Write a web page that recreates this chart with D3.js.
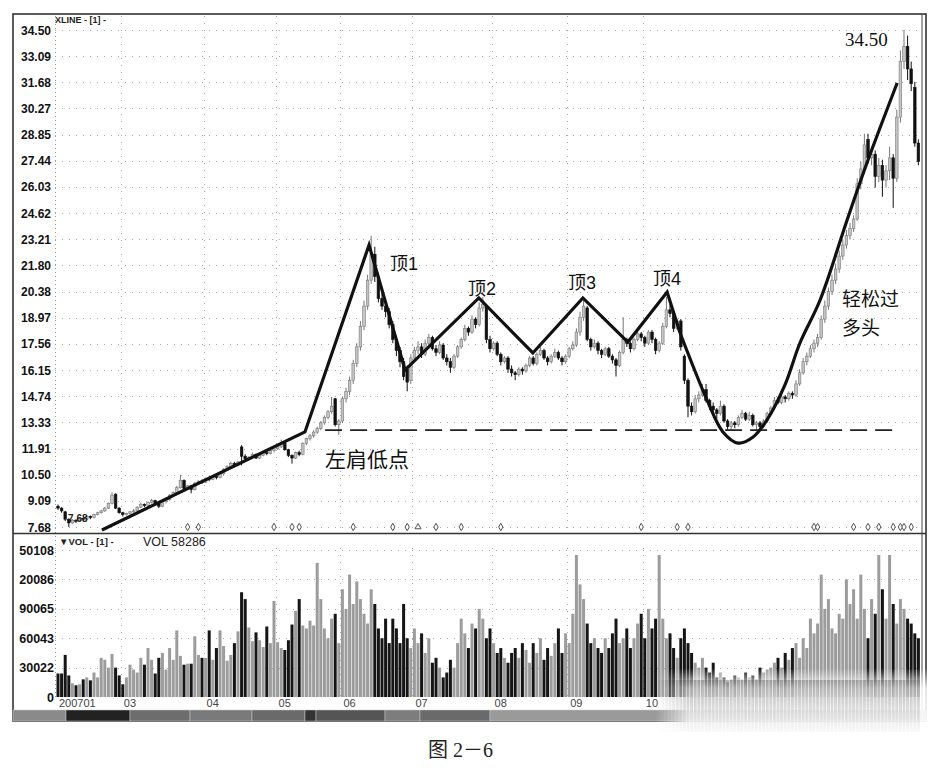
<!DOCTYPE html>
<html><head><meta charset="utf-8">
<script src="https://cdn.jsdelivr.net/npm/d3@7"></script>
<style>body{margin:0;background:#fff}svg{display:block}</style>
</head><body><svg id="c" width="937" height="768"></svg>
<script>
// ---------- DATA ----------
const opens=[
8.80,8.70,8.50,8.10,7.90,8.05,8.00,8.15,8.10,8.25,
8.20,8.35,8.45,8.55,8.70,8.95,9.45,8.70,8.45,8.35,
8.40,8.50,8.55,8.75,8.90,8.85,9.00,9.10,8.95,8.80,
9.05,9.15,9.40,9.55,9.80,10.20,9.75,9.90,9.70,10.05,
10.15,10.10,10.30,10.25,10.40,10.35,10.55,10.80,10.95,11.10,
11.00,12.00,11.50,11.35,11.45,11.60,11.40,11.55,11.70,11.65,
11.80,11.90,12.00,12.20,11.85,11.55,11.40,11.70,11.60,12.20,
12.45,12.60,12.80,13.00,13.30,13.60,13.90,14.60,13.20,13.40,
14.60,15.00,15.60,16.50,17.40,18.50,19.60,21.00,22.40,21.20,
20.00,19.60,19.30,18.60,17.80,17.20,16.60,16.20,15.60,16.80,
17.20,17.40,17.00,17.60,17.90,17.30,17.10,17.50,16.80,16.60,
16.30,16.90,17.40,17.80,18.40,18.20,18.90,18.60,19.50,19.60,
17.80,17.30,17.60,17.00,16.60,16.80,16.20,16.00,15.90,16.20,
16.10,16.40,16.80,16.50,17.00,17.20,16.80,16.60,16.90,17.10,
16.80,16.60,16.90,17.30,17.50,18.20,19.00,19.50,17.80,17.40,
17.60,17.20,17.00,17.30,16.90,16.70,16.40,17.10,17.80,17.60,
17.30,17.80,18.10,17.90,17.60,18.20,17.80,17.20,17.60,18.50,
19.40,19.20,18.40,18.80,16.90,15.60,14.20,13.90,14.60,14.80,
15.10,14.50,14.20,14.00,13.80,14.20,13.40,13.10,13.30,13.20,
13.60,13.80,13.50,13.70,13.20,13.30,13.10,13.40,13.80,14.10,
14.50,14.40,14.70,14.60,14.90,14.80,15.40,16.00,16.60,16.90,
17.30,17.60,17.90,18.90,19.60,20.40,21.00,21.60,22.30,22.90,
23.40,23.80,24.30,26.20,27.00,28.60,27.60,27.80,26.60,27.20,
26.40,26.90,27.60,26.50,29.80,32.80,33.60,32.40,31.40,28.40];
const highs=[
8.90,8.75,8.55,8.15,8.10,8.10,8.20,8.20,8.30,8.30,
8.40,8.50,8.60,8.75,9.00,9.55,9.50,8.75,8.50,8.45,
8.55,8.65,8.80,9.00,8.95,9.05,9.20,9.15,9.00,9.10,
9.20,9.45,9.60,9.90,10.50,10.25,9.95,9.95,10.10,10.20,
10.25,10.35,10.40,10.45,10.50,10.60,10.85,11.00,11.20,11.20,
11.25,12.10,11.60,11.50,11.70,11.65,11.60,11.75,11.80,11.85,
11.95,12.10,12.40,12.25,11.90,11.60,11.75,11.80,12.25,12.50,
12.70,12.90,13.10,13.40,13.70,14.00,14.70,14.65,13.50,14.70,
15.20,15.80,16.70,17.60,18.80,19.90,21.30,23.40,22.80,21.40,
20.30,19.90,19.50,18.80,18.00,17.40,16.80,16.40,17.00,17.40,
17.70,17.60,17.80,18.10,18.00,17.50,17.70,17.60,17.00,16.80,
17.00,17.50,17.90,18.60,18.50,19.10,19.00,19.80,20.10,19.70,
18.00,17.70,17.70,17.10,16.90,16.90,16.40,16.10,16.30,16.30,
16.50,16.90,16.90,17.10,17.40,17.30,16.90,17.00,17.30,17.20,
16.90,17.00,17.40,17.70,18.40,19.30,19.90,19.60,17.90,17.80,
17.70,17.30,17.40,17.40,17.00,16.80,17.20,19.00,17.90,17.70,
17.90,18.30,18.20,18.00,18.30,18.30,17.90,17.70,18.70,20.10,
19.70,19.40,18.90,18.90,17.00,15.70,14.40,14.80,15.00,15.40,
15.40,14.60,14.40,14.10,14.50,14.30,13.50,13.40,13.40,13.70,
14.00,13.90,13.90,13.80,13.40,13.40,13.50,13.90,14.20,14.70,
14.70,14.80,14.80,15.00,15.00,15.60,16.20,16.80,17.10,17.50,
17.80,18.10,19.10,19.90,20.60,21.30,21.90,22.60,23.20,23.70,
24.10,24.50,26.50,27.40,28.90,28.90,28.20,28.00,27.60,27.50,
27.20,28.20,27.80,30.20,33.40,34.50,34.20,32.80,31.70,28.60];
const lows=[
8.60,8.45,8.00,7.68,7.85,7.90,7.95,8.00,8.05,8.10,
8.15,8.30,8.40,8.50,8.65,8.90,8.65,8.40,8.25,8.30,
8.35,8.45,8.50,8.70,8.75,8.80,8.95,8.85,8.70,8.75,
8.95,9.10,9.35,9.50,9.75,9.70,9.70,9.50,9.65,10.00,
10.00,10.05,10.15,10.20,10.25,10.30,10.50,10.75,10.90,10.90,
10.95,11.00,11.30,11.30,11.40,11.35,11.35,11.50,11.55,11.60,
11.70,11.85,11.95,11.80,11.45,11.10,11.35,11.50,11.55,12.10,
12.35,12.50,12.70,12.90,13.20,13.50,13.80,13.10,12.65,13.30,
14.40,14.80,15.40,16.30,17.20,18.30,19.40,20.80,20.90,19.80,
19.40,19.00,18.40,17.60,16.90,16.30,15.60,15.00,15.40,16.60,
17.00,16.80,16.90,17.40,17.20,16.90,17.00,16.70,16.40,16.00,
16.20,16.80,17.30,17.70,18.00,18.10,18.40,18.50,19.30,17.60,
17.10,17.20,16.90,16.40,16.50,16.00,15.80,15.60,15.80,15.90,
16.00,16.30,16.40,16.40,16.90,16.70,16.40,16.50,16.80,16.70,
16.40,16.50,16.80,17.20,17.40,18.00,18.80,17.70,17.20,17.30,
17.00,16.80,16.90,16.80,16.50,15.80,16.30,17.00,17.40,17.10,
17.20,17.70,17.70,17.40,17.50,17.60,17.00,17.10,17.50,18.40,
19.00,18.20,18.30,17.20,15.40,13.60,13.70,13.80,14.40,14.70,
14.40,14.00,13.80,13.50,13.70,13.30,12.90,12.90,13.00,13.10,
13.50,13.40,13.40,13.10,12.90,12.90,13.00,13.30,13.70,14.00,
14.30,14.30,14.40,14.50,14.60,14.70,15.30,15.90,16.40,16.80,
17.10,17.40,17.80,18.70,19.40,20.20,20.80,21.40,22.10,22.70,
23.20,23.60,24.20,25.90,26.80,27.30,27.20,26.00,26.30,25.50,
26.00,26.40,24.90,26.30,29.50,32.40,31.80,31.20,28.20,27.20];
const closes=[
8.70,8.55,8.10,7.90,8.05,8.00,8.15,8.10,8.25,8.20,
8.35,8.45,8.55,8.70,8.95,9.40,8.70,8.45,8.35,8.40,
8.50,8.55,8.75,8.90,8.85,9.00,9.10,8.95,8.80,9.05,
9.15,9.40,9.55,9.80,10.20,9.75,9.90,9.70,10.05,10.15,
10.10,10.30,10.25,10.40,10.35,10.55,10.80,10.95,11.10,11.00,
11.20,11.50,11.35,11.45,11.60,11.40,11.55,11.70,11.65,11.80,
11.90,12.00,12.20,11.85,11.55,11.40,11.70,11.60,12.20,12.45,
12.60,12.80,13.00,13.30,13.60,13.90,14.20,13.20,13.40,14.60,
15.00,15.60,16.50,17.40,18.50,19.60,21.00,22.40,21.20,20.00,
19.60,19.30,18.60,17.80,17.20,16.60,15.80,15.50,16.80,17.20,
17.40,17.00,17.60,17.90,17.30,17.10,17.50,16.80,16.60,16.30,
16.90,17.40,17.80,18.40,18.20,18.90,18.60,19.50,19.70,17.80,
17.30,17.60,17.00,16.60,16.80,16.20,16.00,15.90,16.20,16.10,
16.40,16.80,16.50,17.00,17.20,16.80,16.60,16.90,17.10,16.80,
16.60,16.90,17.30,17.50,18.20,19.00,19.60,17.80,17.40,17.60,
17.20,17.00,17.30,16.90,16.70,16.40,17.10,17.80,17.60,17.30,
17.80,18.10,17.90,17.60,18.20,17.80,17.20,17.60,18.50,19.40,
19.20,18.40,18.80,17.40,15.60,14.20,13.90,14.60,14.80,15.10,
14.50,14.20,14.00,13.80,14.20,13.40,13.10,13.30,13.20,13.60,
13.80,13.50,13.70,13.20,13.30,13.10,13.40,13.80,14.10,14.50,
14.40,14.70,14.60,14.90,14.80,15.40,16.00,16.60,16.90,17.30,
17.60,17.90,18.90,19.60,20.40,21.00,21.60,22.30,22.90,23.40,
23.80,24.30,26.20,27.00,28.30,27.60,27.80,26.60,27.20,26.40,
26.90,27.60,26.50,29.80,32.80,33.60,32.40,31.60,28.40,27.40];
// volume in thousands
const volumes=[
24,24,43,22,14,12,13,18,20,17,
25,20,40,38,30,44,30,22,13,20,
33,28,25,40,33,50,38,24,40,45,
28,50,38,68,42,33,34,34,62,43,
40,40,68,38,50,68,52,37,43,55,
67,107,100,71,57,66,58,51,72,55,
98,56,50,48,58,74,88,100,73,70,
78,73,137,100,70,60,80,85,55,110,
90,125,95,118,100,85,75,110,95,70,
60,80,55,80,70,55,95,60,50,70,
55,65,45,60,35,40,30,20,25,38,
30,55,80,65,50,75,70,90,80,60,
70,55,45,50,40,35,45,50,40,55,
48,35,55,45,60,38,50,42,55,70,
45,65,55,85,145,115,100,75,55,60,
50,45,60,50,65,80,55,60,70,50,
60,75,85,60,90,70,80,145,80,60,
65,50,40,60,70,55,45,35,30,40,
30,25,35,20,25,20,15,18,22,20,
18,25,20,22,18,30,25,28,30,35,
40,30,45,38,50,55,40,60,50,80,
65,75,125,90,100,70,65,85,80,120,
95,110,80,125,90,60,100,85,145,110,
80,145,95,75,100,90,80,75,65,60];

const priceTicks=["34.50","33.09","31.68","30.27","28.85","27.44","26.03","24.62","23.21","21.80","20.38","18.97","17.56","16.15","14.74","13.33","11.91","10.50","9.09","7.68"];
const volTickValues=[150.108,120.086,90.065,60.043,30.022,0];
const volTickLabels=["50108","20086","90065","60043","30022","0"];
const monthLabels=["200701","03","04","05","06","07","08","09","10"];
const monthIdx=[0,18,41,61,79,99,121,142,163];
const markerIdx=[36,39,60,65,67,82,93,97,105,112,123,162,172,175,210,211,221,225,228,232,234,235,237];
const triangleIdx=[100];
// annotation: trend polyline (bar index, price)
const trendIdx=[12.2,68.6,86.4,96.4,116.9,131.9,145.8,158.3,169.2,172.8];
const trendPrice=[7.52,12.81,22.90,16.15,20.04,17.07,20.04,17.66,20.36,18.15];
// rounded bottom & rally curve
const curveIdx=[172.8,180.3,184.7,188.9,193.1,196.9,201.9,206.1,211.7,219.2,224.7,233.1];
const curvePrice=[18.15,14.53,12.81,12.21,12.54,13.45,15.34,17.61,19.93,24.25,27.32,31.64];
const neckPrice=12.91, neckFrom=74.2, neckTo=233.9;
const labels=[
 {t:"顶1",i:92.2,p:21.55,s:18},
 {t:"顶2",i:113.9,p:20.20,s:18},
 {t:"顶3",i:141.7,p:20.52,s:18},
 {t:"顶4",i:165.3,p:20.74,s:18},
 {t:"左肩低点",i:74.2,p:10.92,s:21},
 {t:"轻松过",i:217.8,p:19.60,s:19},
 {t:"多头",i:217.8,p:18.05,s:19}];

// ---------- CHART ----------
const svg=d3.select("#c");
const N=closes.length;
const x=d3.scaleLinear().domain([0,N-1]).range([58,918.4]);
const y=d3.scaleLinear().domain([7.68,34.50]).range([527,30]);
const yv=d3.scaleLinear().domain([0,150.108]).range([697,550]);
const LEFT=55, RIGHT=922;
const sans="'Liberation Sans',Arial,sans-serif";
// primary Latin font keeps the text box compact; CJK glyphs come from Noto Sans CJK
const cjk="'Liberation Sans','Noto Sans CJK SC',sans-serif";

// gridlines
const grid=svg.append("g").attr("stroke","#aaa").attr("stroke-dasharray","1,6").attr("stroke-width",1);
priceTicks.forEach(t=>grid.append("line").attr("x1",LEFT).attr("x2",RIGHT).attr("y1",Math.round(y(+t))+0.5).attr("y2",Math.round(y(+t))+0.5));
volTickValues.slice(0,5).forEach(v=>grid.append("line").attr("x1",LEFT).attr("x2",RIGHT).attr("y1",Math.round(yv(v))+0.5).attr("y2",Math.round(yv(v))+0.5));
monthIdx.slice(1).forEach(m=>{
  const xx=Math.round(x(m)-2)+0.5;
  grid.append("line").attr("x1",xx).attr("x2",xx).attr("y1",16).attr("y2",532);
  grid.append("line").attr("x1",xx).attr("x2",xx).attr("y1",548).attr("y2",697);
});
svg.append("line").attr("x1",LEFT+0.5).attr("x2",LEFT+0.5).attr("y1",16).attr("y2",697).attr("stroke","#999").attr("stroke-dasharray","1,3");

// frame
svg.append("rect").attr("x",13).attr("y",14).attr("width",913).attr("height",707).attr("fill","none").attr("stroke","#333").attr("stroke-width",1.6);
svg.append("line").attr("x1",RIGHT).attr("x2",RIGHT).attr("y1",14).attr("y2",721).attr("stroke","#444").attr("stroke-width",1);
svg.append("line").attr("x1",13).attr("x2",926).attr("y1",533.5).attr("y2",533.5).attr("stroke","#333").attr("stroke-width",1.5);

// candles
const idx=d3.range(N);
const up=i=>closes[i]>=opens[i];
const bw=2.6;
const cg=svg.append("g");
cg.selectAll("line.w").data(idx).join("line")
 .attr("x1",i=>x(i)).attr("x2",i=>x(i)).attr("y1",i=>y(highs[i])).attr("y2",i=>y(lows[i]))
 .attr("stroke",i=>up(i)?"#777":"#111").attr("stroke-width",1);
cg.selectAll("rect").data(idx).join("rect")
 .attr("x",i=>x(i)-bw/2).attr("width",bw)
 .attr("y",i=>y(Math.max(opens[i],closes[i])))
 .attr("height",i=>Math.max(1,Math.abs(y(opens[i])-y(closes[i]))))
 .attr("fill",i=>up(i)?"#c4c4c4":"#111").attr("stroke",i=>up(i)?"#7a7a7a":"#111").attr("stroke-width",0.6);

// markers
const mg=svg.append("g");
mg.selectAll("path.d").data(markerIdx).join("path")
 .attr("transform",i=>`translate(${x(i)},${y(7.68)})`)
 .attr("d",d3.symbol(d3.symbolDiamond,16)).attr("fill","#fff").attr("stroke","#555").attr("stroke-width",1);
mg.selectAll("path.t").data(triangleIdx).join("path")
 .attr("transform",i=>`translate(${x(i)},${y(7.68)})`)
 .attr("d",d3.symbol(d3.symbolTriangle,16)).attr("fill","#fff").attr("stroke","#555").attr("stroke-width",1);

// neck line
svg.append("line").attr("x1",x(neckFrom)).attr("x2",x(neckTo)).attr("y1",y(neckPrice)).attr("y2",y(neckPrice))
 .attr("stroke","#222").attr("stroke-width",1.8).attr("stroke-dasharray","17,8");

// trend polyline
const lineGen=d3.line().x(d=>x(d[0])).y(d=>y(d[1]));
svg.append("path").attr("d",lineGen(trendIdx.map((v,k)=>[v,trendPrice[k]])))
 .attr("fill","none").attr("stroke","#111").attr("stroke-width",3.2).attr("stroke-linejoin","miter");
svg.append("path").attr("d",lineGen.curve(d3.curveCatmullRom)(curveIdx.map((v,k)=>[v,curvePrice[k]])))
 .attr("fill","none").attr("stroke","#111").attr("stroke-width",3.2);

// labels
labels.forEach(l=>svg.append("text").attr("x",x(l.i)).attr("y",y(l.p)).text(l.t)
 .attr("font-family",cjk).attr("font-size",l.s).attr("fill","#111"));
svg.append("text").attr("x",x(218.6)).attr("y",y(33.64)).text("34.50")
 .attr("font-family","'Liberation Serif','DejaVu Serif',serif").attr("font-size",19).attr("fill","#111");
svg.append("text").attr("x",x(2.8)).attr("y",y(7.68)-5).text("7.68")
 .attr("font-family",sans).attr("font-weight","bold").attr("font-size",10).attr("fill","#222");

// price axis labels
svg.append("g").selectAll("text").data(priceTicks).join("text")
 .attr("x",51).attr("y",t=>y(+t)+4.5).attr("text-anchor","end").text(t=>t)
 .attr("font-family",sans).attr("font-weight","bold").attr("font-size",12).attr("fill","#111");
svg.append("text").attr("x",55).attr("y",23).text("XLINE - [1] -")
 .attr("font-family",sans).attr("font-weight","bold").attr("font-size",9).attr("fill","#222");

// volume
const vg=svg.append("g");
vg.selectAll("rect").data(idx).join("rect")
 .attr("x",i=>x(i)-1.5).attr("width",3)
 .attr("y",i=>yv(volumes[i])).attr("height",i=>yv(0)-yv(volumes[i]))
 .attr("fill",i=>up(i)?"#9c9c9c":"#151515");
svg.append("g").selectAll("text").data(volTickLabels).join("text")
 .attr("x",54).attr("y",(t,k)=>yv(volTickValues[k])+4.5).attr("text-anchor","end").text(t=>t)
 .attr("font-family",sans).attr("font-weight","bold").attr("font-size",12.5).attr("fill","#111");
svg.append("text").attr("x",59).attr("y",545).text("▼VOL  -  [1]  -")
 .attr("font-family",sans).attr("font-weight","bold").attr("font-size",9.5).attr("fill","#222");
svg.append("text").attr("x",143).attr("y",546).text("VOL 58286")
 .attr("font-family",sans).attr("font-size",12.5).attr("fill","#222");

// month labels
svg.append("g").selectAll("text").data(monthLabels).join("text")
 .attr("x",(t,k)=>x(monthIdx[k])+1).attr("y",707).text(t=>t)
 .attr("font-family",sans).attr("font-size",11).attr("fill","#444");

// toolbar
const tb=[[13,66,"#8a8a8a"],[66,130,"#222"],[130,190,"#6d6d6d"],[190,252,"#7a7a7a"],[252,305,"#6a6a6a"],[305,316,"#333"],[316,385,"#555"],[385,420,"#7d7d7d"],[420,490,"#6a6a6a"],[490,926,"#9a9a9a"]];
svg.append("g").selectAll("rect").data(tb).join("rect")
 .attr("x",d=>d[0]).attr("width",d=>d[1]-d[0]).attr("y",710).attr("height",11).attr("fill",d=>d[2])
 .attr("stroke","#ccc").attr("stroke-width",0.5);

// faded bottom-right region (scan artifact)
const defs=svg.append("defs");
const fv=defs.append("linearGradient").attr("id","fv").attr("x1",0).attr("y1",0).attr("x2",0).attr("y2",1);
fv.append("stop").attr("offset",0).attr("stop-color","#fff").attr("stop-opacity",0);
fv.append("stop").attr("offset",0.3).attr("stop-color","#fff").attr("stop-opacity",0.85);
fv.append("stop").attr("offset",1).attr("stop-color","#fff").attr("stop-opacity",0.95);
const fh=defs.append("linearGradient").attr("id","fh").attr("x1",0).attr("y1",0).attr("x2",1).attr("y2",0);
fh.append("stop").attr("offset",0).attr("stop-color","#000");
fh.append("stop").attr("offset",0.12).attr("stop-color","#fff");
fh.append("stop").attr("offset",1).attr("stop-color","#fff");
const fs=defs.append("linearGradient").attr("id","fs").attr("x1",0).attr("y1",0).attr("x2",0).attr("y2",1);
fs.append("stop").attr("offset",0).attr("stop-color","#666").attr("stop-opacity",0.5);
fs.append("stop").attr("offset",1).attr("stop-color","#888").attr("stop-opacity",0.05);
defs.append("mask").attr("id","mk").append("rect").attr("x",655).attr("y",660).attr("width",282).attr("height",80).attr("fill","url(#fh)");
const blur=svg.append("g").attr("mask","url(#mk)");
blur.append("rect").attr("x",655).attr("y",668).attr("width",282).attr("height",67).attr("fill","url(#fv)");
blur.selectAll("rect.s").data(idx.filter(i=>i>=166)).join("rect")
 .attr("x",i=>x(i)-1.5).attr("width",3).attr("y",680).attr("height",52).attr("fill","url(#fs)");

// caption
svg.append("text").attr("x",428).attr("y",757).text("图 2－6")
 .attr("font-family","'Liberation Serif','Noto Sans CJK SC',serif").attr("font-size",20).attr("fill","#222");
</script></body></html>
